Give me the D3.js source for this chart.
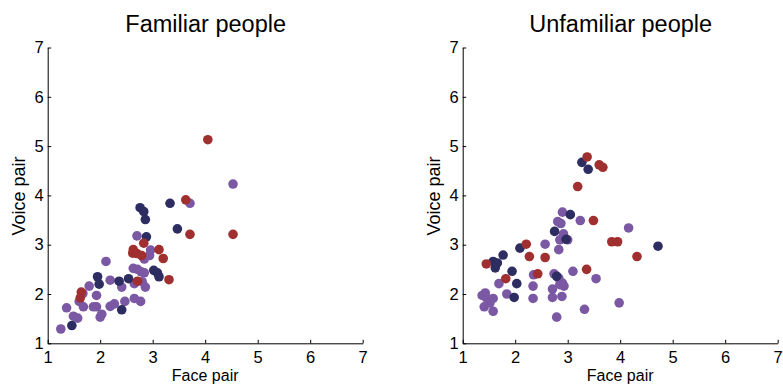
<!DOCTYPE html>
<html>
<head>
<meta charset="utf-8">
<script src="https://cdn.jsdelivr.net/npm/d3@7"></script>
<style>
  html, body { margin: 0; padding: 0; background: #fff; }
  svg { display: block; font-family: "Liberation Sans", Arial, sans-serif; }
</style>
</head>
<body>
<svg id="chart" width="783" height="385"></svg>
<script>
// Panel titles and axis labels
const panelTitles = ["Familiar people", "Unfamiliar people"];
const xLabel = "Face pair";
const yLabel = "Voice pair";
const tickValues = [1, 2, 3, 4, 5, 6, 7];

// Familiar people: [face pair, voice pair] per group
const familiarPurple = [
  [4.53,4.23],[3.71,3.84],[2.70,3.18],[2.11,2.66],[2.96,2.89],[2.94,2.78],[2.84,2.71],
  [2.63,2.52],[2.71,2.50],[2.78,2.45],[2.84,2.43],[2.80,2.25],[2.19,2.28],[2.65,2.21],
  [2.86,2.14],[2.41,2.14],[1.79,2.16],[1.67,2.01],[1.60,1.85],[1.68,1.74],[1.36,1.72],
  [1.87,1.74],[1.93,1.74],[1.93,1.97],[2.19,1.75],[2.27,1.80],[2.47,1.85],[2.65,1.91],
  [2.77,1.85],[2.03,1.59],[2.00,1.53],[1.49,1.55],[1.57,1.51],[1.25,1.29]
];
const familiarNavy = [
  [2.76,3.75],[2.83,3.67],[2.86,3.51],[2.88,3.16],[3.33,3.84],[3.47,3.32],[3.02,2.48],
  [3.09,2.43],[3.12,2.35],[1.95,2.35],[1.98,2.20],[2.36,2.26],[2.54,2.31],[2.41,1.68],
  [1.46,1.36]
];
const familiarRed = [
  [4.05,5.13],[3.63,3.91],[3.71,3.21],[4.53,3.21],[2.83,3.03],[3.12,2.90],[3.20,2.72],
  [2.63,2.90],[2.62,2.83],[2.70,2.82],[2.79,2.78],[3.31,2.29],[2.71,2.26],[1.64,2.04],
  [1.62,1.92]
];

// Unfamiliar people
const unfamiliarPurple = [
  [2.90,3.66],[3.24,3.49],[2.81,3.47],[2.87,3.43],[2.92,3.22],[2.85,3.10],[3.00,3.10],
  [4.16,3.34],[2.57,3.01],[2.83,2.90],[3.10,2.46],[3.54,2.31],[2.35,2.39],[2.74,2.41],
  [2.83,2.32],[1.69,2.21],[2.34,2.16],[2.71,2.10],[2.85,2.19],[2.93,2.16],[2.90,2.22],
  [1.84,2.00],[2.34,1.91],[2.71,1.93],[2.89,1.95],[3.98,1.82],[3.32,1.69],[2.79,1.53],
  [1.43,2.02],[1.37,1.97],[1.46,1.91],[1.58,1.91],[1.41,1.74],[1.52,1.82],[1.58,1.65]
];
const unfamiliarNavy = [
  [3.27,4.67],[3.39,4.53],[3.05,3.61],[2.75,3.27],[2.97,3.11],[4.72,2.97],[2.09,2.93],
  [1.77,2.79],[1.58,2.66],[1.66,2.63],[1.62,2.53],[1.94,2.46],[2.03,2.21],[1.98,1.93],
  [2.79,2.36]
];
const unfamiliarRed = [
  [3.37,4.78],[3.60,4.62],[3.67,4.57],[3.19,4.18],[3.49,3.49],[3.84,3.06],[3.95,3.06],
  [4.32,2.76],[2.21,3.01],[2.27,2.76],[2.57,2.74],[1.45,2.61],[1.82,2.31],[2.43,2.41],
  [3.36,2.50]
];

const groupColors = { purple: "#7b58a3", navy: "#2e2d62", red: "#a0302f" };

const panels = [
  { title: panelTitles[0], left: 47.7, groups: [
      { pts: familiarPurple, color: groupColors.purple },
      { pts: familiarNavy, color: groupColors.navy },
      { pts: familiarRed, color: groupColors.red } ] },
  { title: panelTitles[1], left: 462.7, groups: [
      { pts: unfamiliarPurple, color: groupColors.purple },
      { pts: unfamiliarNavy, color: groupColors.navy },
      { pts: unfamiliarRed, color: groupColors.red } ] }
];

const svg = d3.select("#chart");
const plotW = 315, plotTop = 47.5, plotBottom = 343.3;
const fontFamily = "'Liberation Sans', Arial, sans-serif";

panels.forEach(p => {
  const x = d3.scaleLinear().domain([1, 7]).range([p.left, p.left + plotW]);
  const y = d3.scaleLinear().domain([1, 7]).range([plotBottom, plotTop]);
  const g = svg.append("g");

  // points
  p.groups.forEach(gr => {
    g.append("g").selectAll("circle").data(gr.pts).join("circle")
      .attr("cx", d => x(d[0]))
      .attr("cy", d => y(d[1]))
      .attr("r", 4.8)
      .attr("fill", gr.color);
  });

  // axes with inward ticks
  const fmt = d3.format("d");
  const xAxis = d3.axisBottom(x).tickValues(tickValues).tickFormat(fmt)
    .tickSizeInner(-3.5).tickSizeOuter(0).tickPadding(8);
  const yAxis = d3.axisLeft(y).tickValues(tickValues).tickFormat(fmt)
    .tickSizeInner(-3.5).tickSizeOuter(0).tickPadding(4);

  const gx = g.append("g").attr("transform", `translate(0,${plotBottom})`).call(xAxis);
  const gy = g.append("g").attr("transform", `translate(${p.left},0)`).call(yAxis);
  [gx, gy].forEach(a => {
    a.select(".domain").attr("stroke", "#000").attr("stroke-width", 1);
    a.selectAll(".tick line").attr("stroke", "#000");
    a.selectAll(".tick text").attr("fill", "#000").style("font-size", "16.5px")
      .style("font-family", fontFamily);
  });
  gx.selectAll(".tick text").attr("dy", "0.71em");

  // title
  svg.append("text")
    .attr("x", p.left + plotW / 2 + 0.5)
    .attr("y", 32)
    .attr("text-anchor", "middle")
    .style("font-size", "23.5px")
    .attr("fill", "#000")
    .text(p.title);

  // x label
  svg.append("text")
    .attr("x", p.left + plotW / 2)
    .attr("y", 381)
    .attr("text-anchor", "middle")
    .style("font-size", "16px")
    .attr("fill", "#000")
    .text(xLabel);

  // y label
  svg.append("text")
    .attr("transform", `translate(${p.left - 23},196) rotate(-90)`)
    .attr("text-anchor", "middle")
    .style("font-size", "18px")
    .attr("fill", "#000")
    .text(yLabel);
});
</script>
</body>
</html>
